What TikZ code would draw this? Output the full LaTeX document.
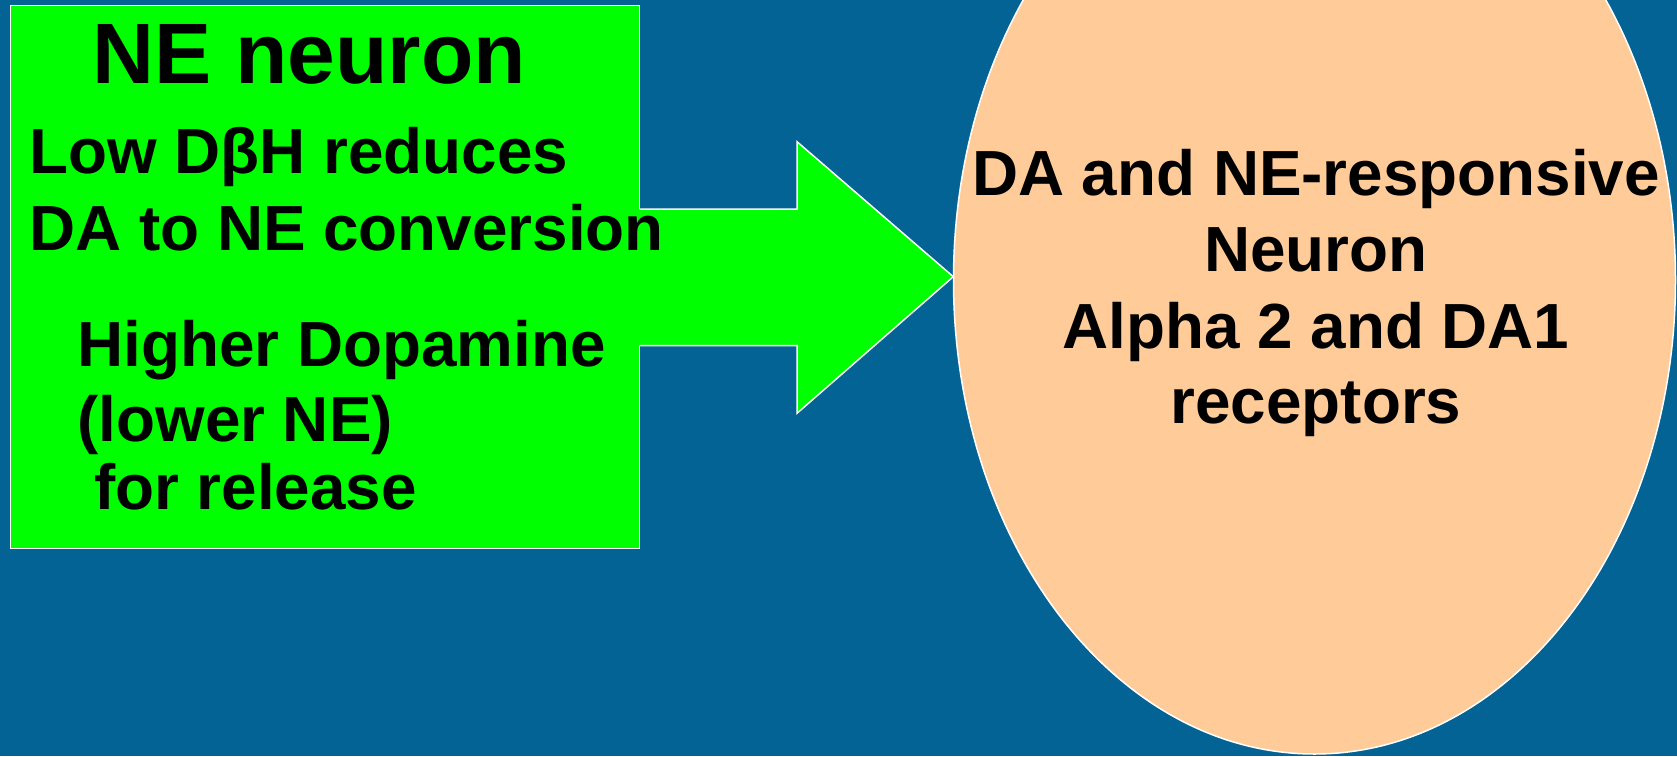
\documentclass[tikz,border=0pt]{standalone}
\usepackage{fontspec}
\setmainfont{Liberation Sans}
\usetikzlibrary{shapes.geometric}
\definecolor{bgblue}{RGB}{3,99,148}
\definecolor{boxgreen}{RGB}{0,255,0}
\definecolor{peach}{RGB}{255,204,153}
\tikzset{
  x=0.5pt, y=-0.5pt,
  outline/.style={draw=white, line width=0.75pt},
  txt/.style={inner sep=0pt, text=black, font=\bfseries\fontsize{31.9pt}{38pt}\selectfont},
  titletxt/.style={inner sep=0pt, text=black, font=\bfseries\fontsize{42.9pt}{50pt}\selectfont},
}
\begin{document}
\begin{tikzpicture}
\fill[bgblue] (0,0) rectangle (1677,756);
\useasboundingbox (0,0) rectangle (1677,756);
\clip (0,0) rectangle (1677,756);
% left box
\node[outline, fill=boxgreen, rectangle, inner sep=0pt,
      minimum width=314.5pt, minimum height=271.7pt] (ne) at (325.2,277) {};
% block arrow
\coordinate (a1) at (639.7,209);
\coordinate (a2) at (797,209);
\coordinate (a3) at (797,141.7);
\coordinate (tip) at (953.3,276.7);
\coordinate (a5) at (797,413.3);
\coordinate (a6) at (797,345.7);
\coordinate (a7) at (639.7,345.7);
\fill[boxgreen] ([xshift=-2pt]a1) -- (a2) -- (a3) -- (tip) -- (a5) -- (a6) -- ([xshift=-2pt]a7) -- cycle;
\draw[outline, line join=miter] (a1) -- (a2) -- (a3) -- (tip) -- (a5) -- (a6) -- (a7);
% ellipse
\node[outline, fill=peach, ellipse, inner sep=0pt,
      minimum width=361pt, minimum height=474pt] (rn) at (1314.5,280) {};
% left texts
\node[titletxt, anchor=base west] (t0) at (92,83) {NE neuron};
\node[txt, anchor=base west] (t1) at (29,173.6) {Low DβH reduces};
\node[txt, anchor=base west] (t2) at (29,250) {DA to NE conversion};
\node[txt, anchor=base west] (t3) at (77,366) {Higher Dopamine};
\node[txt, anchor=base west] (t4) at (77,441) {(lower NE)};
\node[txt, anchor=base west] (t5) at (93.7,509) {for release};
% right texts
\node[txt, anchor=base] (r1) at (1316,195) {DA and NE-responsive};
\node[txt, anchor=base] (r2) at (1316,271) {Neuron};
\node[txt, anchor=base] (r3) at (1316,348) {Alpha 2 and DA1};
\node[txt, anchor=base] (r4) at (1316,423) {receptors};
\end{tikzpicture}
\end{document}
